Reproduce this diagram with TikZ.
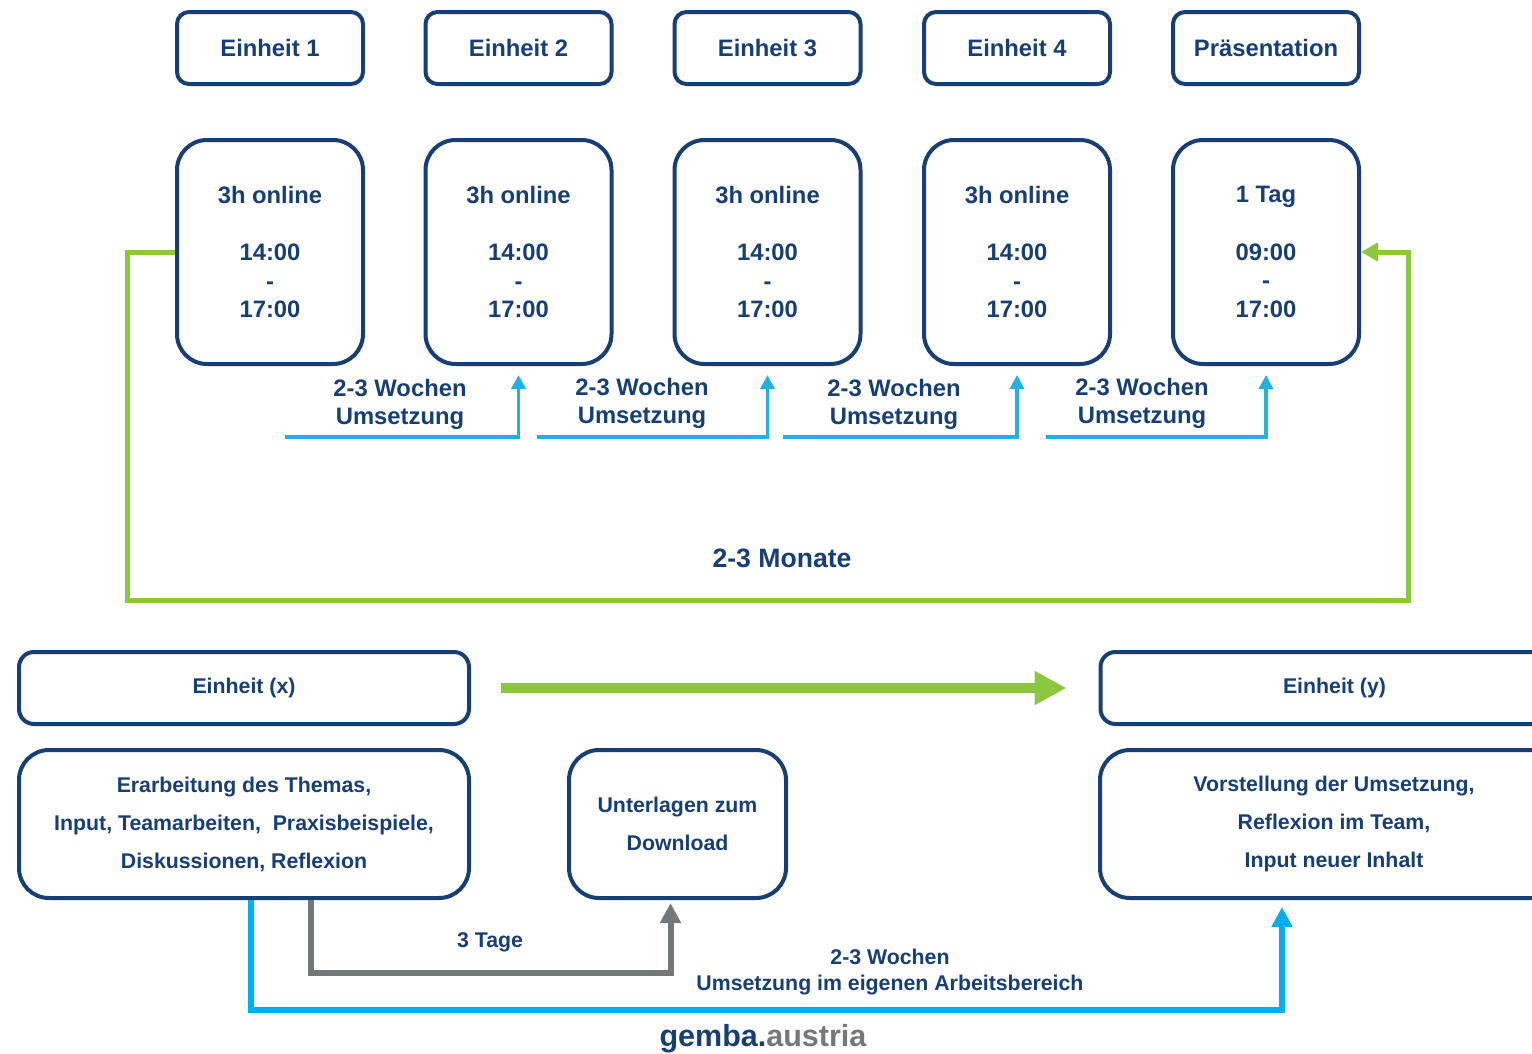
\documentclass[tikz,border=0pt]{standalone}
\usepackage{fontspec}
\setmainfont{Liberation Sans}
\usetikzlibrary{arrows.meta, calc, positioning}
\definecolor{gdblue}{RGB}{23,63,118}
\definecolor{ggreen}{RGB}{141,198,63}
\definecolor{gcyan}{RGB}{35,177,228}
\definecolor{gblue}{RGB}{0,174,239}
\definecolor{ggray}{RGB}{117,120,123}

\begin{document}
\begin{tikzpicture}[x=1pt, y=-1pt,% styles used in image code
 unit/.style = {draw=gdblue, line width=4pt, rounded corners=12pt,
                minimum width=186pt, minimum height=72pt,
                inner sep=0pt, text=gdblue,
                font=\fontsize{23.8}{28.7}\selectfont\bfseries},
 slot/.style = {unit, rounded corners=30pt, minimum height=224pt,
                align=center},
bunit/.style = {unit, rounded corners=15pt, minimum width=450pt,
                font=\fontsize{21.3}{38}\selectfont\bfseries},
btext/.style = {bunit, rounded corners=30pt, minimum height=148pt,
                align=center},
 word/.style = {text=gdblue, align=center, inner sep=0pt,
                font=\fontsize{23.8}{28}\selectfont\bfseries},
bword/.style = {word, font=\fontsize{21.3}{26}\selectfont\bfseries},
 week/.style = {draw=gcyan, line width=3.5pt, shorten >=9pt,
                -{Triangle[length=14pt, width=14pt]}},
month/.style = {draw=ggreen, line width=5pt,
                -{Triangle[length=17pt, width=18pt]}},
nextunit/.style = {draw=ggreen, line width=10pt,
                shorten <=30pt, shorten >=32pt,
                -{Triangle[length=32pt, width=32pt]}},
 days/.style = {draw=ggray, line width=6pt, shorten >=3pt,
                -{Triangle[length=20pt, width=20pt]}},
 impl/.style = {draw=gblue, line width=6pt, shorten >=7pt,
                -{Triangle[length=20pt, width=20pt]}}
                        ]
	\useasboundingbox (0,0) rectangle (1532,1053);

	% top row
	\node[unit] (e1) at (270,48)    {Einheit 1};
	\node[unit] (e2) at (518.5,48)  {Einheit 2};
	\node[unit] (e3) at (767.5,48)  {Einheit 3};
	\node[unit] (e4) at (1017,48)   {Einheit 4};
	\node[unit] (e5) at (1266,48)   {Präsentation};

	\node[slot] (s1) at (270,252)    {3h online\\[28.7pt]14:00\\-\\17:00};
	\node[slot] (s2) at (518.5,252)  {3h online\\[28.7pt]14:00\\-\\17:00};
	\node[slot] (s3) at (767.5,252)  {3h online\\[28.7pt]14:00\\-\\17:00};
	\node[slot] (s4) at (1017,252)   {3h online\\[28.7pt]14:00\\-\\17:00};
	\node[slot] (s5) at (1266,252)   {1 Tag\\[28.7pt]09:00\\-\\17:00};

	% weeks between the units
	\coordinate (c1) at (285,437);
	\coordinate (c2) at (537,437);
	\coordinate (c3) at (783,437);
	\coordinate (c4) at (1046,437);

	\draw [week] (c1) -| (s2.south);
	\draw [week] (c2) -| (s3.south);
	\draw [week] (c3) -| (s4.south);
	\draw [week] (c4) -| (s5.south);

	\node[word] (w1) at (400,404)  {2-3 Wochen\\Umsetzung};
	\node[word] (w2) at (642,403)  {2-3 Wochen\\Umsetzung};
	\node[word] (w3) at (894,404)  {2-3 Wochen\\Umsetzung};
	\node[word] (w4) at (1142,403) {2-3 Wochen\\Umsetzung};

	% whole course
	\coordinate (gl) at (127,600);
	\coordinate (gr) at (1408,600);
	\draw [month] (s1.west) -| (gl) -- (gr) |- (s5.east);
	\node[word, font=\fontsize{26.6}{30}\selectfont\bfseries] (m) at (782,558) {2-3 Monate};

	% bottom part
	\node[bunit] (ux) at (244,688)    {Einheit (x)};
	\node[bunit, minimum width=468pt] (uy) at (1334.5,688) {Einheit (y)};

	\node[btext] (tx) at (244,824)
	     {Erarbeitung des Themas,\\Input, Teamarbeiten,~ Praxisbeispiele,\\Diskussionen, Reflexion};
	\node[btext, minimum width=217pt] (dl) at (677.5,824)
	     {Unterlagen zum\\Download};
	\node[btext, minimum width=468pt] (ty) at (1334,824)
	     {Vorstellung der Umsetzung,\\Reflexion im Team,\\Input neuer Inhalt};

	\draw [nextunit] (ux.east) -- (uy.west);
	\draw [days] ([xshift=67pt]tx.south) -- ++(0,73) -| ([xshift=-7pt]dl.south);
	\draw [impl] ([xshift=7pt]tx.south) -- ++(0,110) -| ([xshift=-52pt]ty.south);

	\node[bword] (d3) at (490,942) {3 Tage};
	\node[bword] (d2) at (890,972) {2-3 Wochen\\Umsetzung im eigenen Arbeitsbereich};

	\node[word, font=\fontsize{30.5}{34}\selectfont\bfseries] (logo) at (763,1039)
	     {gemba.\textcolor{ggray}{austria}};
\end{tikzpicture}
\end{document}
